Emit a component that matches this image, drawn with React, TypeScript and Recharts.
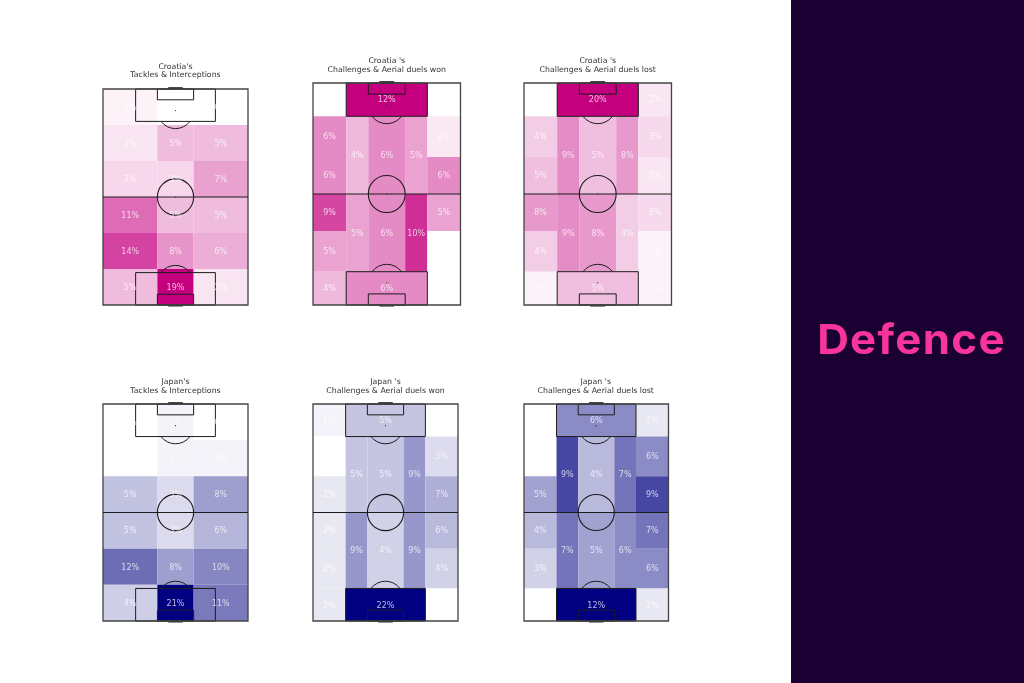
import { LabelList, ReferenceArea, ReferenceDot, ReferenceLine, Scatter, ScatterChart, XAxis, YAxis } from "recharts"

// tackle charts: row by row from the top of the pitch, three columns in each row
const croatiaTackles = [1, 0, 0, 2, 5, 5, 3, 3, 7, 11, 5, 5, 14, 8, 6, 5, 19, 2]
const japanTackles = [0, 1, 0, 0, 1, 1, 5, 3, 8, 5, 3, 6, 12, 8, 10, 4, 21, 11]

// duel charts: left wing (6), inside left (2), centre (2), inside right (2), right wing (6), boxes (2)
const croatiaDuelsWon = [1, 6, 6, 9, 5, 4, 4, 5, 6, 6, 5, 10, 1, 2, 6, 5, 1, 1, 12, 6]
const croatiaDuelsLost = [0, 4, 5, 8, 4, 1, 9, 9, 5, 8, 8, 4, 2, 3, 2, 3, 1, 1, 20, 5]
const japanDuelsWon = [1, 0, 2, 2, 2, 2, 5, 9, 5, 4, 9, 9, 0, 3, 7, 6, 4, 0, 5, 22]
const japanDuelsLost = [1, 1, 5, 4, 3, 1, 9, 7, 4, 5, 7, 6, 2, 6, 9, 7, 6, 2, 6, 12]

const tackleTitle = "Tackles & Interceptions"
const wonTitle = "Challenges & Aerial duels won"
const lostTitle = "Challenges & Aerial duels lost"

const CROATIA = [196, 0, 127]
const JAPAN = [0, 0, 128]
const LINE = "#1c1c1c"
const FONT = "'DejaVu Sans', sans-serif"
const SOFT = "blur(0.35px)"

type Zone = { x1: number; x2: number; y1: number; y2: number }

const pairs = (edges: number[]) => edges.slice(0, -1).map((e, i) => [e, edges[i + 1]])

const tackleZones: Zone[] = pairs([0, 20, 40, 60, 80, 100, 120]).flatMap(([y1, y2]) =>
  pairs([0, 30, 50, 80]).map(([x1, x2]) => ({ x1, x2, y1, y2 })),
)

const wingRows = pairs([0, 18, 40, 60, 80, 102, 120])
const midRows = pairs([18, 60, 102])
const duelZones: Zone[] = [
  ...wingRows.map(([y1, y2]) => ({ x1: 0, x2: 18, y1, y2 })),
  ...midRows.map(([y1, y2]) => ({ x1: 18, x2: 30, y1, y2 })),
  ...midRows.map(([y1, y2]) => ({ x1: 30, x2: 50, y1, y2 })),
  ...midRows.map(([y1, y2]) => ({ x1: 50, x2: 62, y1, y2 })),
  ...wingRows.map(([y1, y2]) => ({ x1: 62, x2: 80, y1, y2 })),
  { x1: 18, x2: 62, y1: 0, y2: 18 },
  { x1: 18, x2: 62, y1: 102, y2: 120 },
]

const shade = (rgb: number[], t: number) =>
  `rgb(${rgb.map((c) => Math.round(255 + (c - 255) * t)).join(",")})`

type PitchProps = {
  team: string
  title: string
  values: number[]
  zones: Zone[]
  rgb: number[]
  left: number
  top: number
  width: number
  height: number
  titleTop: number
}

function Pitch({ team, title, values, zones, rgb, left, top, width, height, titleTop }: PitchProps) {
  const pad = 4
  const max = Math.max(...values)
  const min = Math.min(...values)
  const cells = zones.map((z, i) => ({
    ...z,
    x: (z.x1 + z.x2) / 2,
    y: (z.y1 + z.y2) / 2,
    label: `${values[i]}%`,
    color: shade(rgb, (values[i] - min) / (max - min)),
  }))
  const ux = width / 80
  const uy = height / 120
  const arc = (sweep: number, dir: number) => (p: any) => (
    <path
      d={`M${p.cx - 8 * ux},${p.cy + dir * 6 * uy}A${10 * ux},${10 * uy} 0 0 ${sweep} ${p.cx + 8 * ux},${p.cy + dir * 6 * uy}`}
      fill="none"
      stroke={LINE}
      strokeWidth={1}
    />
  )
  const box = { fill: "none", fillOpacity: 0, stroke: LINE, strokeWidth: 1, ifOverflow: "visible" as const }

  return (
    <>
      <div
        style={{
          position: "absolute",
          left: left - 30,
          width: width + 60,
          top: titleTop,
          textAlign: "center",
          fontFamily: FONT,
          fontSize: 7.8,
          lineHeight: "8.8px",
          color: "#333",
          whiteSpace: "nowrap",
          filter: SOFT,
        }}
      >
        {team}
        <br />
        {title}
      </div>
      <div style={{ position: "absolute", left: left - pad, top: top - pad, filter: SOFT }}>
        <ScatterChart
          width={width + pad * 2}
          height={height + pad * 2}
          margin={{ top: pad, right: pad, bottom: pad, left: pad }}
        >
          <XAxis type="number" dataKey="x" domain={[0, 80]} hide />
          <YAxis type="number" dataKey="y" domain={[0, 120]} reversed hide />
          {cells.map((c) => (
            <ReferenceArea
              key={`${c.x1}-${c.y1}`}
              x1={c.x1}
              x2={c.x2}
              y1={c.y1}
              y2={c.y2}
              fill={c.color}
              fillOpacity={1}
              stroke="none"
            />
          ))}
          <ReferenceArea x1={18} x2={62} y1={0} y2={18} {...box} />
          <ReferenceArea x1={18} x2={62} y1={102} y2={120} {...box} />
          <ReferenceArea x1={30} x2={50} y1={0} y2={6} {...box} />
          <ReferenceArea x1={30} x2={50} y1={114} y2={120} {...box} />
          <ReferenceArea x1={36} x2={44} y1={-1} y2={0} fill={LINE} fillOpacity={1} stroke="none" ifOverflow="visible" />
          <ReferenceArea x1={36} x2={44} y1={120} y2={121} fill={LINE} fillOpacity={0.6} stroke="none" ifOverflow="visible" />
          <ReferenceArea x1={0} x2={80} y1={0} y2={120} {...box} stroke="#444" strokeWidth={1.3} />
          <ReferenceLine y={60} stroke={LINE} strokeWidth={1} />
          <ReferenceDot x={40} y={60} r={10 * ux} fill="none" stroke={LINE} strokeWidth={1.1} />
          <ReferenceDot x={40} y={60} r={0.5} fill={LINE} stroke="none" />
          <ReferenceDot x={40} y={12} r={0.6} fill="#222" stroke="none" />
          <ReferenceDot x={40} y={108} r={0.6} fill="#222" stroke="none" />
          <ReferenceDot x={40} y={12} shape={arc(0, 1)} />
          <ReferenceDot x={40} y={108} shape={arc(1, -1)} />
          <Scatter data={cells} isAnimationActive={false} shape={() => <g />}>
            <LabelList
              dataKey="label"
              position="center"
              fill="rgba(255,255,255,0.72)"
              fontSize={8}
              fontFamily={FONT}
            />
          </Scatter>
        </ScatterChart>
      </div>
    </>
  )
}

export default function App() {
  return (
    <div style={{ position: "absolute", left: 0, top: 0, width: 1024, height: 683, background: "#fff", overflow: "hidden" }}>
      <Pitch team="Croatia's" title={tackleTitle} values={croatiaTackles} zones={tackleZones} rgb={CROATIA} left={103} top={89} width={145} height={216} titleTop={62.5} />
      <Pitch team="Croatia 's" title={wonTitle} values={croatiaDuelsWon} zones={duelZones} rgb={CROATIA} left={313} top={83} width={147.5} height={222} titleTop={57} />
      <Pitch team="Croatia 's" title={lostTitle} values={croatiaDuelsLost} zones={duelZones} rgb={CROATIA} left={524} top={83} width={147.5} height={222} titleTop={57} />
      <Pitch team="Japan's" title={tackleTitle} values={japanTackles} zones={tackleZones} rgb={JAPAN} left={103} top={404} width={145} height={217} titleTop={378} />
      <Pitch team="Japan 's" title={wonTitle} values={japanDuelsWon} zones={duelZones} rgb={JAPAN} left={313} top={404} width={145} height={217} titleTop={378} />
      <Pitch team="Japan 's" title={lostTitle} values={japanDuelsLost} zones={duelZones} rgb={JAPAN} left={523.5} top={404} width={144.5} height={217} titleTop={378} />
      <div style={{ position: "absolute", left: 791, top: 0, width: 233, height: 683, background: "#1a0033" }} />
      <div
        style={{
          position: "absolute",
          left: 791,
          width: 233,
          top: 314,
          textAlign: "center",
          fontFamily: "Inter, sans-serif",
          fontWeight: 700,
          fontSize: 41,
          lineHeight: "50px",
          letterSpacing: 1.2,
          color: "#f7359a",
          transform: "translateX(4px) scaleX(1.07)",
          filter: SOFT,
        }}
      >
        Defence
      </div>
    </div>
  )
}
